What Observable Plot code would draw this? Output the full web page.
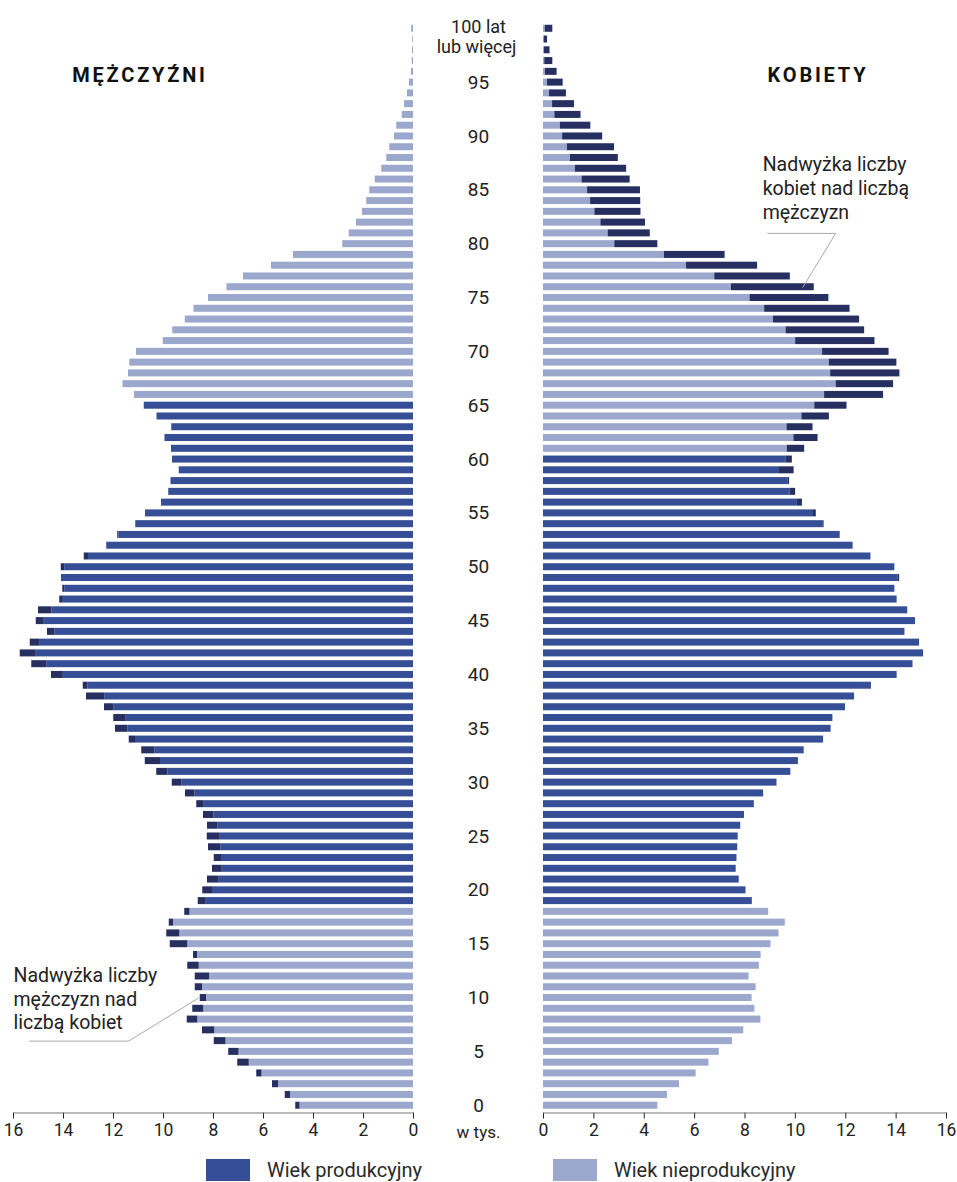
<!DOCTYPE html>
<html>
<head>
<meta charset="utf-8">
<script src="https://cdn.jsdelivr.net/npm/d3@7"></script>
<script src="https://cdn.jsdelivr.net/npm/@observablehq/plot@0.6"></script>
<style>
  body { margin: 0; background: #fff; font-family: Roboto, "Noto Sans", sans-serif; }
  #wrap { position: relative; width: 957px; height: 1182px; overflow: hidden; }
  .panel { position: absolute; top: 0; }
  .title { position: absolute; font-weight: 700; font-size: 20px; letter-spacing: 2.8px; color: #111; transform: translate(-50%, -50%); white-space: nowrap; }
  .legend { position: absolute; top: 1158px; left: 0; width: 957px; height: 24px; font-size: 20px; color: #2a2a2a; }
  .legend .item { position: absolute; display: flex; align-items: center; }
  .legend .sw { width: 44px; height: 22px; margin-right: 17px; }
</style>
</head>
<body>
<div id="wrap"></div>
<script>
// ---- data (thousands of persons) ----
const ages = d3.range(0, 101);
const male = [
  4.71, 5.13, 5.64, 6.27, 7.03, 7.39, 7.97, 8.44, 9.05, 8.83,
  8.53, 8.73, 8.73, 9.03, 8.80, 9.73, 9.87, 9.77, 9.15, 8.61,
  8.43, 8.24, 8.04, 7.97, 8.20, 8.25, 8.24, 8.40, 8.67, 9.12,
  9.65, 10.27, 10.73, 10.87, 11.37, 11.92, 11.99, 12.36, 13.08, 13.21,
  14.48, 15.27, 15.73, 15.33, 14.64, 15.09, 15.00, 14.15, 14.03, 14.08,
  14.09, 13.17, 12.27, 11.83, 11.11, 10.72, 10.08, 9.79, 9.70, 9.37,
  9.64, 9.68, 9.94, 9.67, 10.26, 10.77, 11.16, 11.62, 11.40, 11.35,
  11.08, 10.01, 9.63, 9.13, 8.78, 8.20, 7.46, 6.80, 5.68, 4.80,
  2.83, 2.57, 2.28, 2.04, 1.87, 1.75, 1.53, 1.27, 1.07, 0.95,
  0.76, 0.67, 0.45, 0.36, 0.24, 0.16, 0.08, 0.05, 0.04, 0.03,
  0.07
];
const female = [
  4.54, 4.92, 5.40, 6.06, 6.57, 6.98, 7.50, 7.95, 8.63, 8.39,
  8.28, 8.44, 8.16, 8.57, 8.64, 9.03, 9.35, 9.60, 8.94, 8.29,
  8.04, 7.77, 7.65, 7.68, 7.71, 7.73, 7.83, 7.98, 8.37, 8.74,
  9.27, 9.82, 10.12, 10.35, 11.12, 11.42, 11.49, 11.99, 12.35, 13.02,
  14.04, 14.67, 15.09, 14.93, 14.35, 14.77, 14.46, 14.04, 13.95, 14.14,
  13.95, 13.00, 12.29, 11.78, 11.14, 10.83, 10.28, 10.01, 9.77, 9.95,
  9.88, 10.37, 10.90, 10.70, 11.35, 12.05, 13.50, 13.90, 14.15, 14.03,
  13.72, 13.16, 12.75, 12.55, 12.17, 11.33, 10.75, 9.80, 8.50, 7.21,
  4.54, 4.24, 4.05, 3.87, 3.86, 3.85, 3.44, 3.30, 2.97, 2.82,
  2.35, 1.88, 1.49, 1.23, 0.91, 0.78, 0.54, 0.37, 0.26, 0.16,
  0.37
];
const productiveMale = [19, 65];
const productiveFemale = [19, 60];
const ageTicks = [0, 5, 10, 15, 20, 25, 30, 35, 40, 45, 50, 55, 60, 65, 70, 75, 80, 85, 90, 95];
const topLabel = ["100 lat", "lub więcej"];
const xTicks = [0, 2, 4, 6, 8, 10, 12, 14, 16];
const kinds = ["productive", "nonproductive", "excess"];
const kindColors = ["#354e96", "#9ba7cc", "#262f60"];
const legendLabels = ["Wiek produkcyjny", "Wiek nieprodukcyjny"];

// annotations (data units: value in thousands, age)
const maleNote = {text: "Nadwyżka liczby\nmężczyzn nad\nliczbą kobiet", x: 16, age: 10};
const maleLeader = [{x: 15.35, age: 6}, {x: 11.4, age: 6}, {x: 8.6, age: 10}];
const femaleNote = {text: "Nadwyżka liczby\nkobiet nad liczbą\nmężczyzn", x: 8.7, age: 85};
const femaleLeader = [{x: 8.9, age: 81}, {x: 11.6, age: 81}, {x: 10.3, age: 76}];

function rowsFor(own, other, range) {
  const rows = [];
  ages.forEach((a, i) => {
    const base = Math.min(own[i], other[i]);
    const prod = a >= range[0] && a <= range[1];
    rows.push({age: a, x1: 0, x2: base, kind: prod ? "productive" : "nonproductive"});
    if (own[i] > other[i]) rows.push({age: a, x1: base, x2: own[i], kind: "excess"});
  });
  return rows;
}

const H = 1150;
const common = (isMale) => ({
  height: H,
  marginTop: 21,
  marginBottom: H - 21 - 1091.5,
  x: {domain: [0, 16], reverse: isMale, ticks: xTicks, tickSize: 6, tickPadding: 5, label: null, tickFormat: d => d},
  y: {type: "band", domain: d3.range(100, -1, -1), padding: 0.35, axis: null},
  color: {domain: kinds, range: kindColors},
  style: {fontSize: "17.5px", fontFamily: "Roboto, 'Noto Sans', sans-serif", color: "#222", background: "transparent", overflow: "visible"}
});

const left = Plot.plot({
  ...common(true),
  width: 478, marginLeft: 13, marginRight: 65,
  marks: [
    Plot.barX(rowsFor(male, female, productiveMale), {x1: "x1", x2: "x2", y: "age", fill: "kind"}),
    Plot.frame({anchor: "bottom", stroke: "#777"}),
    Plot.line(maleLeader, {x: "x", y: "age", stroke: "#aaa", strokeWidth: 1}),
    Plot.text([maleNote], {x: "x", y: "age", text: "text", textAnchor: "start", lineAnchor: "middle", lineHeight: 1.2, fontSize: 19.5, fill: "#222"})
  ]
});

const right = Plot.plot({
  ...common(false),
  width: 544, marginLeft: 130, marginRight: 11,
  marks: [
    Plot.barX(rowsFor(female, male, productiveFemale), {x1: "x1", x2: "x2", y: "age", fill: "kind"}),
    Plot.frame({anchor: "bottom", stroke: "#777"}),
    Plot.text(ageTicks, {x: () => 0, y: d => d, text: d => String(d), dx: -65, textAnchor: "middle", fontSize: 19, fill: "#222"}),
    Plot.text([topLabel[0]], {x: () => 0, y: () => 100, text: d => d, dx: -65, dy: -2, textAnchor: "middle", fontSize: 18, fill: "#222"}),
    Plot.text([topLabel[1]], {x: () => 0, y: () => 100, text: d => d, dx: -67, dy: 18.5, textAnchor: "middle", fontSize: 18, fill: "#222"}),
    Plot.text(["w tys."], {x: () => 0, y: () => 0, text: d => d, dx: -65, dy: 27, textAnchor: "middle", fontSize: 17, fill: "#222"}),
    Plot.line(femaleLeader, {x: "x", y: "age", stroke: "#aaa", strokeWidth: 1}),
    Plot.text([femaleNote], {x: "x", y: "age", text: "text", dy: -3, textAnchor: "start", lineAnchor: "middle", lineHeight: 1.24, fontSize: 19.5, fill: "#222"})
  ]
});

const wrap = document.getElementById("wrap");
left.classList.add("panel"); left.style.left = "0px";
right.classList.add("panel"); right.style.left = "413px";
wrap.appendChild(left);
wrap.appendChild(right);

function addTitle(txt, x, y) {
  const d = document.createElement("div");
  d.className = "title"; d.textContent = txt;
  d.style.left = x + "px"; d.style.top = y + "px";
  wrap.appendChild(d);
}
addTitle("MĘŻCZYŹNI", 140, 75);
addTitle("KOBIETY", 818, 75);

const lg = document.createElement("div");
lg.className = "legend";
[[206, 0], [553, 1]].forEach(([x, i]) => {
  const it = document.createElement("div");
  it.className = "item"; it.style.left = x + "px";
  const sw = document.createElement("div");
  sw.className = "sw"; sw.style.background = kindColors[i];
  const t = document.createElement("span"); t.textContent = legendLabels[i];
  it.appendChild(sw); it.appendChild(t);
  lg.appendChild(it);
});
wrap.appendChild(lg);
</script>
</body>
</html>
